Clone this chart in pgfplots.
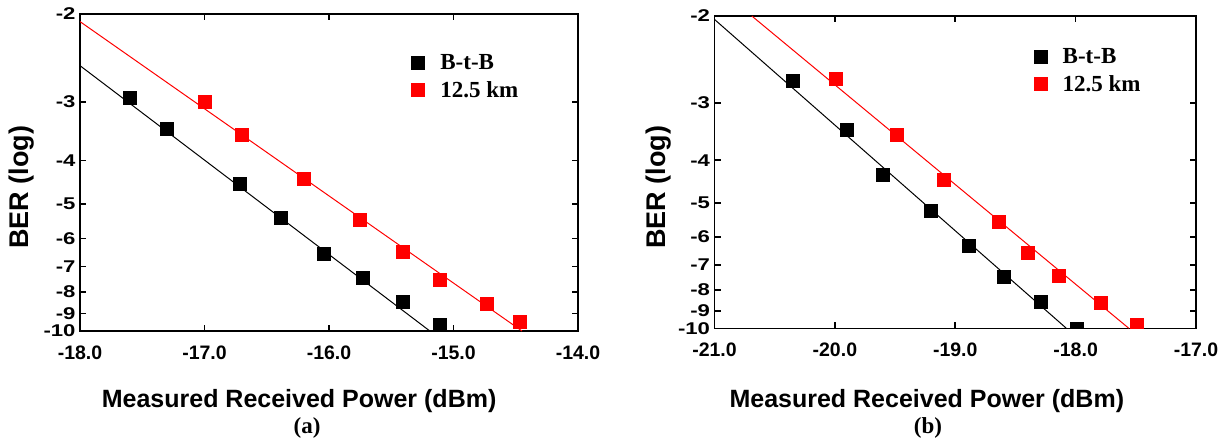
\documentclass[border=0pt]{standalone}
\usepackage{fontspec}
\setmainfont{Liberation Serif}
\setsansfont{Liberation Sans}
\usepackage{graphicx}
\usepackage{pgfplots}
\pgfplotsset{compat=1.18}

% y tick labels are drawn a little wider than high in the original
\newcommand\wide[1]{\scalebox{1.3}[1]{#1}}

% BER axis: positions in % of axis height on the Q-scale (-10 at 0, -2 at 100)
\pgfplotsset{
  berplot/.style={
    scale only axis, anchor=south west,
    ymin=0, ymax=100,
    ytick={0,5.5,12.3,20.3,29.2,40.1,53.8,72.2,100},
    yticklabels={\wide{-10},\wide{-9},\wide{-8},\wide{-7},\wide{-6},\wide{-5},\wide{-4},\wide{-3},\wide{-2}},
    tick align=inside, major tick length=6pt,
    xticklabel pos=lower, yticklabel pos=left,
    axis line style={line width=1.6pt},
    every tick/.style={line width=1.6pt, black},
    clip marker paths=true,
    xticklabel style={font=\sffamily\bfseries\fontsize{19.5}{20}\selectfont, yshift=-11pt},
    yticklabel style={font=\sffamily\bfseries\fontsize{17}{18}\selectfont, xshift=-1pt},
    label style={font=\sffamily\bfseries\fontsize{25}{26}\selectfont},
    ylabel style={font=\sffamily\bfseries\fontsize{27}{28}\selectfont},
    legend cell align=left,
    legend style={draw=none, fill=none, inner sep=0pt, column sep=16pt, row sep=10pt,
      nodes={inner sep=0pt},
      font=\rmfamily\bfseries\fontsize{23}{23}\selectfont},
    legend image code/.code={\draw[#1] plot coordinates {(6.5pt,0pt)};},
  },
  dat/.style={only marks, mark=square*, mark size=6.5pt, color=#1,
    mark options={draw=none, fill=#1}},
  fit/.style={no marks, line width=1pt, color=#1, forget plot},
}

\begin{document}
\begin{tikzpicture}[x=1pt,y=1pt]
\useasboundingbox (0,0) rectangle (1228,439);

% (a)
\begin{axis}[berplot, at={(80pt,108pt)}, width=498pt, height=317pt,
  xmin=-18, xmax=-14, xtick={-18,-17,-16,-15,-14},
  xticklabels={-18.0,-17.0,-16.0,-15.0,-14.0},
  xlabel={Measured Received Power (dBm)}, ylabel={BER (log)},
  xlabel style={at={(axis description cs:0.44,-0.222)}, anchor=center},
  ylabel style={at={(axis description cs:-0.1165,0.454)}, anchor=center},
  legend style={at={(axis description cs:0.665,0.872)}, anchor=north west}]
\addplot[fit=black] coordinates {(-18,83.7) (-15.19,0)};
\addplot[fit=red] coordinates {(-18,97.6) (-14.45,0)};
\addplot[dat=black] coordinates {(-17.60,73.7) (-17.30,63.9) (-16.72,46.6) (-16.39,35.7)
  (-16.04,24.3) (-15.73,16.9) (-15.41,9.1) (-15.11,2.0)};
\addlegendentry{B-t-B}
\addplot[dat=red] coordinates {(-17.00,72.3) (-16.70,61.8) (-16.20,48.2) (-15.75,35.2)
  (-15.41,25.0) (-15.11,16.1) (-14.73,8.5) (-14.47,3.0)};
\addlegendentry{12.5 km}
\end{axis}

% (b)
\begin{axis}[berplot, at={(714.5pt,110.7pt)}, width=481.5pt, height=312.3pt,
  xmin=-21, xmax=-17, xtick={-21,-20,-19,-18,-17},
  xticklabels={-21.0,-20.0,-19.0,-18.0,-17.0},
  xlabel={Measured Received Power (dBm)}, ylabel={BER (log)},
  xlabel style={at={(axis description cs:0.441,-0.234)}, anchor=center},
  ylabel style={at={(axis description cs:-0.117,0.452)}, anchor=center},
  legend style={at={(axis description cs:0.6625,0.896)}, anchor=north west}]
\addplot[fit=black] coordinates {(-21,98.9) (-18.077,0)};
\addplot[fit=red] coordinates {(-20.69,100) (-17.558,0)};
\addplot[dat=black] coordinates {(-20.35,79.2) (-19.90,63.5) (-19.60,49.1) (-19.20,37.6)
  (-18.89,26.4) (-18.60,16.5) (-18.29,8.5) (-17.99,0)};
\addlegendentry{B-t-B}
\addplot[dat=red] coordinates {(-19.99,79.8) (-19.49,61.9) (-19.10,47.5) (-18.64,34.1)
  (-18.40,24.2) (-18.14,16.8) (-17.79,8.2) (-17.49,1.1)};
\addlegendentry{12.5 km}
\end{axis}

\node[font=\rmfamily\bfseries\fontsize{23}{24}\selectfont] at (307,11) {(a)};
\node[font=\rmfamily\bfseries\fontsize{23}{24}\selectfont] at (928,11) {(b)};
\end{tikzpicture}
\end{document}
